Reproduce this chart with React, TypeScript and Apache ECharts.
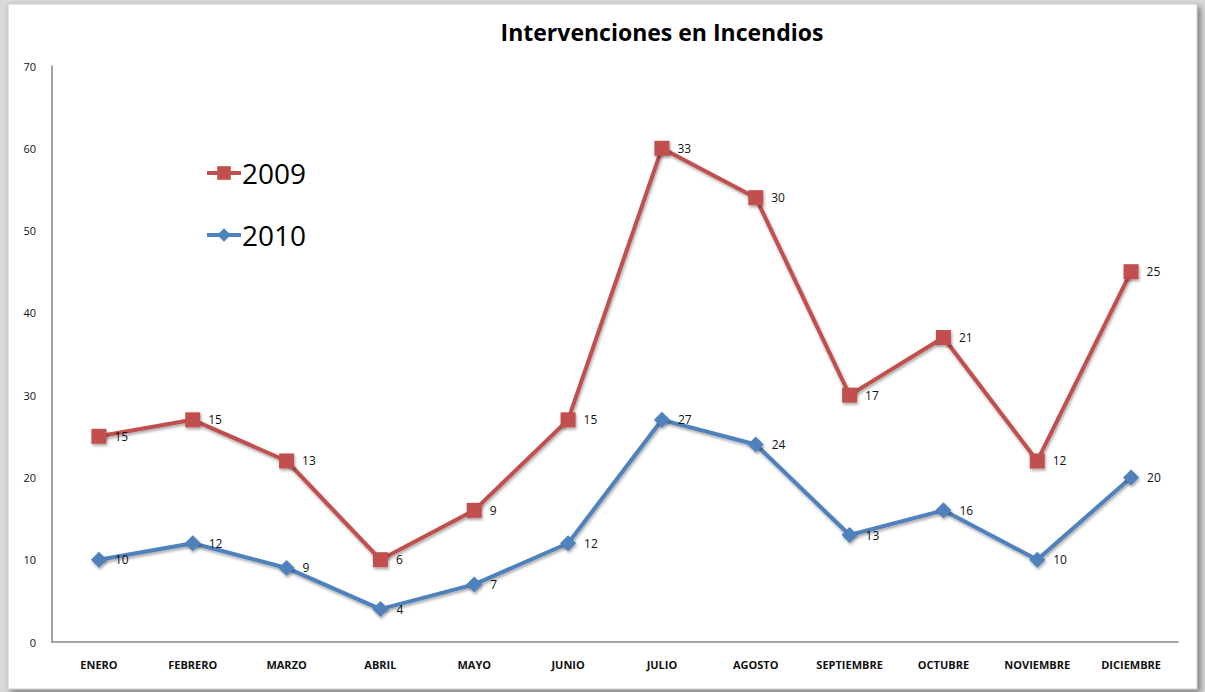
import React, { useEffect, useRef } from "react";
import * as echarts from "echarts";

const months = ["ENERO", "FEBRERO", "MARZO", "ABRIL", "MAYO", "JUNIO", "JULIO", "AGOSTO", "SEPTIEMBRE", "OCTUBRE", "NOVIEMBRE", "DICIEMBRE"];
const values2009 = [15, 15, 13, 6, 9, 15, 33, 30, 17, 21, 12, 25];
const values2010 = [10, 12, 9, 4, 7, 12, 27, 24, 13, 16, 10, 20];
const yTicks = { min: 0, max: 70, interval: 10 };

const FONT = "'Open Sans', 'Liberation Sans', sans-serif";

export default function App() {
  const ref = useRef<HTMLDivElement>(null);
  useEffect(() => {
    if (!ref.current) return;
    const chart = echarts.init(ref.current, undefined, { renderer: "svg" });
    const shadow = { shadowBlur: 3, shadowColor: "rgba(0,0,0,0.35)", shadowOffsetX: 1, shadowOffsetY: 2 };
    chart.setOption({
      animation: false,
      backgroundColor: "#d9d9d9",
      graphic: [
        {
          type: "rect",
          shape: { x: 8, y: 4, width: 1189, height: 685 },
          style: { fill: "#ffffff", stroke: "#c8c8c8", lineWidth: 1, shadowBlur: 6, shadowColor: "rgba(0,0,0,0.45)", shadowOffsetX: 3, shadowOffsetY: 3 },
          z: -10,
          silent: true,
        },
      ],
      title: {
        text: "Intervenciones en Incendios",
        left: 657,
        textAlign: "center",
        top: 15,
        textStyle: { fontFamily: FONT, fontSize: 23, fontWeight: "bold", color: "#000" },
      },
      legend: {
        data: ["2009", "2010"],
        orient: "vertical",
        left: 200,
        top: 153,
        itemGap: 32,
        itemWidth: 34,
        itemHeight: 17,
        lineStyle: { width: 4 },
        textStyle: { fontFamily: FONT, fontSize: 28, color: "#000", lineHeight: 30, padding: [0, 0, 0, -4] },
      },
      grid: { left: 52, right: 27, top: 66, bottom: 50, containLabel: false },
      xAxis: {
        type: "category",
        data: months,
        boundaryGap: true,
        axisLine: { show: true, lineStyle: { color: "#868686", width: 1.5 } },
        axisTick: { show: false },
        axisLabel: { fontFamily: FONT, fontSize: 11, fontWeight: "bold", color: "#111", margin: 17, interval: 0 },
      },
      yAxis: {
        type: "value",
        min: yTicks.min,
        max: yTicks.max,
        interval: yTicks.interval,
        axisLine: { show: true, lineStyle: { color: "#868686", width: 1.5 } },
        axisTick: { show: false },
        splitLine: { show: false },
        axisLabel: { fontFamily: FONT, fontSize: 11, color: "#111", margin: 16 },
      },
      series: [
        {
          name: "2010",
          type: "line",
          stack: "total",
          data: values2010,
          symbol: "diamond",
          symbolSize: 16,
          lineStyle: { color: "#4F81BD", width: 4, ...shadow },
          itemStyle: { color: "#4F81BD", ...shadow },
          label: { show: true, position: "right", distance: 8, fontFamily: FONT, fontSize: 12, color: "#111" },
          z: 2,
        },
        {
          name: "2009",
          type: "line",
          stack: "total",
          data: values2009,
          symbol: "rect",
          symbolSize: 15,
          lineStyle: { color: "#C0504D", width: 4, ...shadow },
          itemStyle: { color: "#C0504D", ...shadow },
          label: { show: true, position: "right", distance: 8, fontFamily: FONT, fontSize: 12, color: "#111" },
          z: 3,
        },
      ],
    });
    return () => chart.dispose();
  }, []);
  return <div ref={ref} style={{ position: "absolute", left: 0, top: 0, width: 1205, height: 692 }} />;
}
